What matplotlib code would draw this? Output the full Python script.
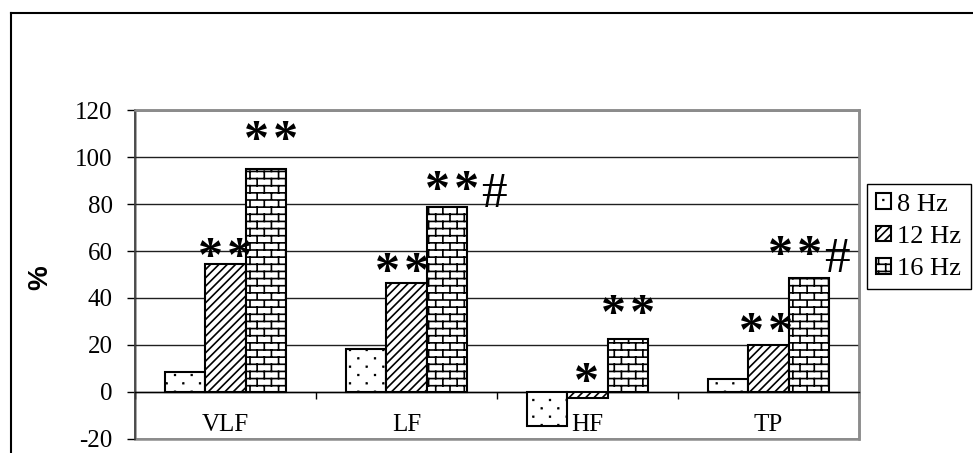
import numpy as np
import matplotlib
matplotlib.use("Agg")
import matplotlib.pyplot as plt
from matplotlib import hatch as mhatch
from matplotlib.path import Path
from matplotlib.lines import Line2D
from matplotlib.patches import Rectangle

# data
categories = ['VLF', 'LF', 'HF', 'TP']
series = ['8 Hz', '12 Hz', '16 Hz']
v8 = [8.5, 18.2, -14.7, 5.4]
v12 = [54.6, 46.3, -2.8, 20.1]
v16 = [95.0, 78.6, 22.4, 48.5]
# significance stars: (category, series, text, baseline y)
stars = [(0, 1, '**', 51.5), (0, 2, '**', 101.5),
         (1, 1, '**', 45.1), (1, 2, '**', 80.1),
         (2, 1, '*', -1.9), (2, 2, '**', 27.1),
         (3, 1, '**', 19.5), (3, 2, '**', 52.3)]
star_dx = [0.0, 0.028, -0.025, 0.027, -0.008, 0.0, -0.014, -0.078]
# '#' marks: (category, series, baseline y)
hashes = [(1, 2, 78.9), (3, 2, 51.1)]
hash_dx = [0.262, 0.155]
yticks = [-20, 0, 20, 40, 60, 80, 100, 120]


# brick pattern, hooked onto the '|' hatch char
class BrickHatch(mhatch.HatchPatternBase):
  rows = 14
  cols = 7

  def __init__(self, hatch, density):
    self.segs = []
    if hatch.count('|'):
      for r in range(self.rows + 1):
        y0 = r / self.rows
        self.segs.append([(0, y0), (1, y0)])
        if r == self.rows:
          break
        y1 = (r + 1) / self.rows
        shift = 0.5 / self.cols if r % 2 else 0.0
        for c in range(self.cols + 1):
          xx = c / self.cols + shift
          if xx <= 1.0:
            self.segs.append([(xx, y0), (xx, y1)])
    self.num_vertices = 2 * len(self.segs)

  def set_vertices_and_codes(self, vertices, codes):
    vertices[:] = np.array(self.segs).reshape(-1, 2)
    codes[0::2] = Path.MOVETO
    codes[1::2] = Path.LINETO


# sparse specks, hooked onto '.'
class SpeckHatch(mhatch.HatchPatternBase):
  rows = 12
  cols = 6
  half = 0.003

  def __init__(self, hatch, density):
    self.pts = []
    if hatch.count('.'):
      for r in range(self.rows + 1):
        yy = r / self.rows
        if r % 2:
          xs = [(c + 0.5) / self.cols for c in range(self.cols)]
        else:
          xs = [c / self.cols for c in range(self.cols + 1)]
        self.pts += [(xx, yy) for xx in xs]
    self.num_vertices = 5 * len(self.pts)

  def set_vertices_and_codes(self, vertices, codes):
    h = self.half
    sq = np.array([(-h, -h), (h, -h), (h, h), (-h, h), (-h, -h)])
    vertices[:] = (np.array(self.pts)[:, None, :] + sq[None]).reshape(-1, 2)
    c = np.array([Path.MOVETO, Path.LINETO, Path.LINETO, Path.LINETO,
                  Path.CLOSEPOLY])
    codes[:] = np.tile(c, len(self.pts))


mhatch._hatch_types = [t for t in mhatch._hatch_types
                       if t not in (mhatch.VerticalHatch,
                                    mhatch.SmallFilledCircles)]
mhatch._hatch_types += [BrickHatch, SpeckHatch]

plt.rcParams['hatch.linewidth'] = 1.2
plt.rcParams['hatch.color'] = 'black'
plt.rcParams['axes.unicode_minus'] = False
plt.rcParams['font.family'] = ['Liberation Serif', 'DejaVu Serif']

W, H = 973, 453
fig = plt.figure(figsize=(W / 100, H / 100), dpi=100)
ax = fig.add_axes([135 / W, 1 - 438.5 / H, 724 / W, 328 / H])

x = np.arange(len(categories))
w = 0.2238
hatches = ['.', '////', '|']
vals = [v8, v12, v16]
for i, (lab, v, h) in enumerate(zip(series, vals, hatches)):
  ax.bar(x + (i - 1) * w, v, w, label=lab, color='white', edgecolor='black',
         linewidth=1.5, hatch=h, zorder=3)

for (ci, si, txt, yb), dx in zip(stars, star_dx):
  ax.text(ci + (si - 1) * w + dx, yb, '\u200a'.join(txt), ha='center',
          va='baseline', fontsize=36, fontweight='bold', zorder=4)
for (ci, si, yb), dx in zip(hashes, hash_dx):
  ax.text(ci + (si - 1) * w + dx, yb, '#', ha='center', va='baseline',
          fontsize=37, zorder=4)

ax.set_xlim(-0.5, 3.5)
ax.set_ylim(-20, 120)
ax.set_yticks(yticks)
ax.tick_params(axis='y', direction='out', length=6, width=1, pad=10,
               labelsize=18, color='black')
ax.yaxis.grid(True, color='#202020', linewidth=1)
ax.set_axisbelow(True)

# x axis sits at zero, ticks between the groups, names as minor labels
ax.spines['bottom'].set_position(('data', 0))
ax.spines['bottom'].set_color('black')
ax.spines['bottom'].set_linewidth(1)
ax.set_xticks(np.arange(-0.5, 4, 1))
ax.set_xticklabels([])
ax.set_xticks(x, minor=True)
ax.set_xticklabels(categories, minor=True)
ax.tick_params(axis='x', which='major', direction='out', length=5, width=1)
ax.tick_params(axis='x', which='minor', length=0, pad=16, labelsize=18)
ax.spines['left'].set_color('#404040')
ax.spines['left'].set_linewidth(1.2)
for s in ['top', 'right']:
  ax.spines[s].set_color('#8c8c8c')
  ax.spines[s].set_linewidth(1.8)
ax.add_patch(Rectangle((0, 0), 1, 1, transform=ax.transAxes, fill=False,
                       edgecolor='#8c8c8c', linewidth=1.8, zorder=0,
                       clip_on=False))

fig.text(40 / W, 1 - 278 / H, '%', rotation=90, ha='center', va='center',
         fontsize=20, fontweight='bold', family='Liberation Sans')

leg = ax.legend(loc='upper left', bbox_to_anchor=(867 / W, 1 - 184 / H),
                bbox_transform=fig.transFigure, borderaxespad=0,
                fancybox=False, edgecolor='black', framealpha=1,
                fontsize=19, handlelength=0.55, handleheight=0.55,
                handletextpad=0.25, labelspacing=0.38, borderpad=0.35)
leg.get_frame().set_linewidth(1)

# outer chart frame (only left and top edges fall inside the picture)
fig.add_artist(Line2D([11 / W, 11 / W], [0, 1 - 13 / H], color='black',
                      linewidth=1.5))
fig.add_artist(Line2D([11 / W, 1], [1 - 13 / H, 1 - 13 / H], color='black',
                      linewidth=1.5))

fig.savefig('out.png', dpi=100)
